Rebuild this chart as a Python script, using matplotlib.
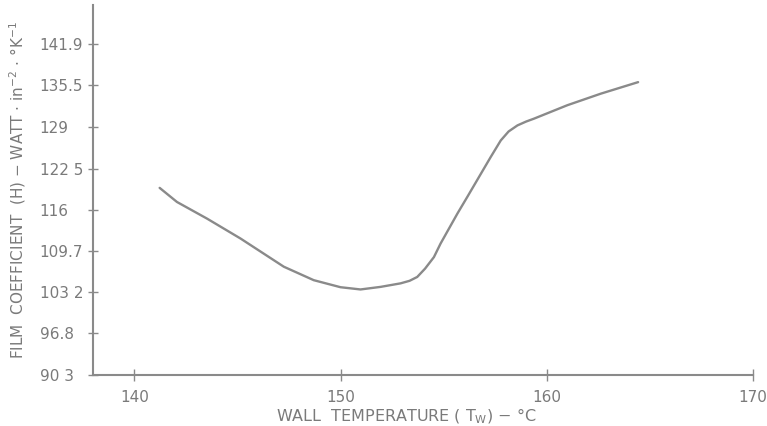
import matplotlib
matplotlib.use("Agg")
import matplotlib.pyplot as plt

# Film coefficient versus wall temperature
wall_temp = [141.23, 142.07, 143.53, 145.15, 147.25, 148.70, 150.00, 150.97,
             151.94, 152.91, 153.35, 153.72, 154.10, 154.53, 154.85, 155.67,
             156.15, 157.28, 157.77, 158.15, 158.58, 159.00, 159.38, 161.00,
             162.62, 164.43]
film_coef = [119.5, 117.3, 114.7, 111.6, 107.2, 105.1, 104.0, 103.65,
             104.05, 104.6, 105.0, 105.6, 106.9, 108.7, 110.8, 115.5,
             118.1, 124.3, 126.9, 128.3, 129.25, 129.85, 130.3, 132.4,
             134.2, 136.0]

x_ticks = [140, 150, 160, 170]
x_labels = ["140", "150", "160", "170"]
y_ticks = [90.3, 96.8, 103.2, 109.7, 116.0, 122.5, 129.0, 135.5, 141.9]
y_labels = ["90 3", "96.8", "103 2", "109.7", "116", "122 5", "129", "135.5", "141.9"]

ink = "#8a8a8a"
text_ink = "#7a7a7a"

fig = plt.figure(figsize=(7.67, 4.26), dpi=100)
ax = fig.add_axes([0.1213, 0.1197, 0.8604, 0.868])

ax.plot(wall_temp, film_coef, color=ink, lw=1.7, solid_capstyle="round",
        solid_joinstyle="round")

ax.set_xlim(138.0, 170.0)
ax.set_ylim(90.3, 148.0)

for side in ("top", "right"):
    ax.spines[side].set_visible(False)
for side in ("left", "bottom"):
    ax.spines[side].set_color(ink)
    ax.spines[side].set_linewidth(1.5)

ax.set_xticks(x_ticks)
ax.set_xticklabels(x_labels)
ax.set_yticks(y_ticks)
ax.set_yticklabels(y_labels)

ax.tick_params(axis="x", direction="inout", length=9, width=1.0, color=ink,
               labelsize=11, labelcolor=text_ink, pad=6)
ax.tick_params(axis="y", direction="inout", length=7, width=1.0, color=ink,
               labelsize=11, labelcolor=text_ink, pad=35)
for lbl in ax.get_yticklabels():
    lbl.set_horizontalalignment("left")

ax.set_xlabel(r"WALL  TEMPERATURE ( T$_{\mathregular{W}}$) $-$ °C",
              fontsize=11.5, color=text_ink)
ax.xaxis.set_label_coords(0.474, -0.086)
ax.set_ylabel(r"FILM  COEFFICIENT  (H) $-$ WATT $\cdot$ in$^{-2}$ $\cdot$ °K$^{-1}$",
              fontsize=11, color=text_ink)
ax.yaxis.set_label_coords(-0.098, 0.5)

fig.savefig("out.png", dpi=100)
